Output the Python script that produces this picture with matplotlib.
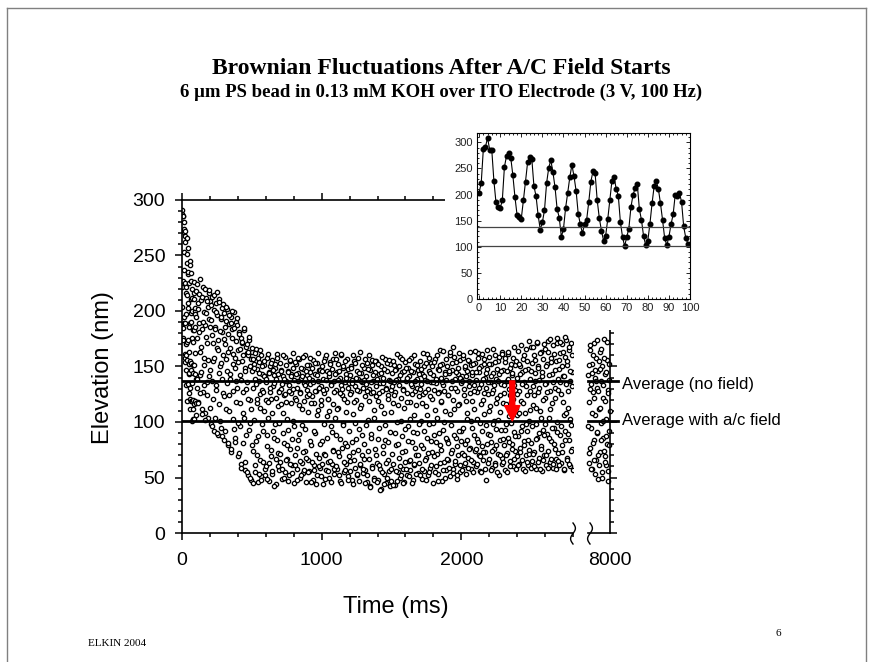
import numpy as np
import matplotlib.pyplot as plt
from matplotlib.ticker import MultipleLocator, FixedLocator
from matplotlib.lines import Line2D
from matplotlib.patches import Rectangle

plt.rcParams['font.family'] = ['Liberation Sans', 'DejaVu Sans']

# --- datos ---------------------------------------------------------------
# primeros 100 ms (1 muestra por ms), los mismos del recuadro
inset_nm = [204, 222, 287, 291, 309, 286, 286, 227, 185, 176,
            174, 189, 253, 274, 280, 271, 237, 195, 161, 158,
            154, 189, 225, 262, 272, 268, 216, 197, 160, 133,
            147, 170, 222, 251, 266, 243, 214, 172, 156, 119,
            134, 174, 203, 233, 257, 235, 207, 163, 143, 126,
            144, 152, 186, 225, 245, 241, 189, 155, 131, 112,
            121, 153, 190, 227, 234, 211, 198, 147, 119, 101,
            119, 135, 176, 200, 212, 220, 172, 151, 120, 103,
            112, 144, 183, 216, 226, 211, 183, 151, 116, 103,
            119, 143, 162, 200, 197, 203, 186, 139, 117, 106]

# de 100 ms a 2800 ms, una muestra cada 4 ms (una fila = 100 ms)
step_ms = 4
trace_nm = [
    218, 131, 176, 207, 118, 189, 215, 142, 163, 210, 112, 184, 222, 127, 158, 199, 108, 187, 212, 136, 171, 204, 104, 193, 216,
    147, 209, 98, 178, 213, 121, 155, 201, 92, 186, 207, 133, 167, 196, 88, 174, 211, 116, 150, 193, 95, 181, 203, 126, 160,
    198, 84, 170, 191, 112, 146, 202, 79, 163, 188, 124, 139, 195, 73, 176, 184, 103, 152, 199, 86, 158, 190, 118, 131, 187,
    69, 165, 181, 96, 142, 176, 62, 155, 171, 108, 127, 183, 57, 149, 168, 88, 136, 162, 52, 160, 174, 99, 120, 157, 48,
    146, 163, 74, 131, 152, 55, 139, 166, 83, 117, 148, 46, 154, 137, 66, 125, 160, 51, 143, 129, 92, 110, 151, 58, 141,
    60, 136, 158, 78, 104, 145, 47, 150, 127, 69, 121, 156, 53, 132, 142, 86, 98, 149, 44, 139, 161, 72, 114, 128, 57,
    153, 64, 130, 147, 49, 108, 141, 81, 124, 159, 55, 137, 118, 67, 146, 93, 133, 52, 155, 76, 126, 143, 61, 101, 149,
    45, 138, 122, 70, 152, 58, 131, 144, 84, 115, 157, 50, 127, 140, 63, 97, 148, 54, 135, 119, 74, 160, 46, 142, 129,
    66, 109, 151, 56, 134, 145, 79, 123, 138, 48, 156, 117, 61, 143, 90, 128, 153, 52, 111, 137, 68, 147, 59, 132, 120,
    83, 150, 44, 139, 126, 71, 158, 57, 130, 105, 146, 64, 121, 141, 50, 154, 96, 134, 62, 148, 75, 116, 137, 53, 162,
    88, 129, 145, 58, 152, 113, 69, 140, 47, 133, 160, 77, 124, 99, 149, 55, 136, 81, 143, 62, 118, 157, 51, 131, 92,
    142, 65, 127, 150, 48, 138, 107, 73, 155, 59, 132, 120, 85, 146, 52, 139, 94, 128, 163, 61, 115, 144, 70, 136, 54,
    149, 80, 123, 57, 141, 134, 46, 153, 102, 67, 130, 147, 42, 126, 89, 156, 60, 137, 111, 50, 145, 76, 132, 155, 63,
    119, 48, 143, 95, 135, 58, 150, 40, 128, 72, 140, 108, 53, 157, 84, 131, 45, 146, 66, 124, 138, 56, 152, 91, 129,
    47, 144, 117, 62, 136, 151, 43, 127, 79, 148, 100, 55, 139, 133, 68, 159, 50, 122, 87, 145, 58, 130, 113, 46, 154,
    74, 137, 126, 52, 149, 96, 65, 141, 118, 57, 158, 82, 132, 48, 145, 106, 61, 128, 152, 70, 139, 90, 54, 147, 123,
    63, 155, 101, 134, 49, 143, 77, 125, 150, 56, 138, 114, 68, 161, 86, 130, 52, 146, 98, 59, 136, 153, 73, 121, 45,
    142, 88, 129, 157, 60, 135, 104, 71, 148, 53, 127, 165, 79, 118, 140, 47, 152, 93, 133, 64, 145, 110, 57, 138, 84,
    150, 66, 124, 144, 51, 160, 97, 131, 75, 147, 58, 168, 112, 62, 139, 86, 154, 49, 128, 143, 70, 116, 156, 55, 135,
    92, 141, 72, 158, 61, 130, 149, 80, 119, 53, 146, 103, 68, 137, 155, 77, 126, 58, 151, 95, 142, 64, 133, 112, 74,
    153, 60, 138, 85, 127, 162, 70, 145, 99, 56, 134, 150, 78, 120, 66, 157, 107, 140, 73, 131, 48, 148, 89, 125, 159,
    67, 136, 114, 82, 152, 59, 129, 144, 76, 101, 160, 63, 139, 94, 122, 71, 155, 52, 143, 109, 84, 134, 163, 68, 117,
    147, 79, 126, 57, 154, 98, 137, 72, 161, 86, 130, 105, 65, 149, 118, 80, 142, 60, 158, 91, 133, 74, 151, 113, 69,
    140, 87, 164, 62, 128, 150, 77, 119, 96, 145, 58, 157, 83, 136, 108, 70, 166, 92, 124, 61, 148, 101, 75, 139, 168,
    81, 153, 65, 132, 115, 160, 73, 144, 98, 58, 171, 86, 127, 150, 68, 138, 110, 78, 163, 56, 141, 93, 157, 70, 122,
    166, 61, 135, 89, 152, 74, 173, 104, 128, 64, 158, 83, 143, 117, 59, 169, 95, 131, 76, 155, 67, 176, 100, 139, 72,
    148, 88, 162, 63, 125, 170, 79, 141, 106, 57, 159, 92, 134, 174, 68, 151, 113, 84, 165, 60, 137, 97, 171, 76, 145,
]

# muestras intermedias (102 ms, 106 ms, ...), tambien cada 4 ms
trace_nm_b = [
    195, 224, 139, 117, 202, 181, 126, 229, 168, 145, 107, 213, 190, 133, 151, 220, 102, 177, 198, 124, 209, 156, 141, 219, 186,
    113, 192, 205, 137, 96, 171, 214, 158, 104, 184, 129, 199, 217, 90, 165, 144, 208, 182, 101, 153, 195, 139, 87, 206, 175,
    123, 186, 92, 204, 157, 135, 81, 179, 196, 110, 167, 143, 189, 76, 200, 128, 161, 94, 185, 149, 82, 173, 137, 194, 99,
    154, 72, 179, 117, 166, 59, 138, 172, 81, 160, 104, 185, 64, 146, 130, 170, 55, 121, 163, 93, 177, 50, 150, 112, 167,
    79, 157, 45, 149, 102, 162, 61, 134, 121, 70, 158, 87, 144, 53, 165, 113, 48, 150, 98, 127, 64, 155, 141, 52, 120,
    139, 88, 49, 161, 118, 63, 144, 131, 75, 153, 56, 108, 147, 92, 42, 135, 152, 67, 122, 84, 158, 60, 143, 99, 127,
    71, 146, 116, 58, 134, 160, 90, 50, 139, 125, 66, 151, 103, 79, 145, 47, 128, 156, 62, 117, 141, 85, 54, 162, 130,
    96, 154, 61, 120, 143, 77, 48, 137, 158, 89, 65, 126, 149, 52, 112, 141, 73, 159, 57, 133, 94, 146, 68, 123, 151,
    55, 140, 125, 83, 158, 46, 117, 149, 64, 136, 92, 57, 153, 128, 71, 44, 142, 106, 162, 60, 131, 80, 147, 115, 51,
    146, 62, 129, 98, 155, 70, 49, 138, 160, 86, 121, 56, 144, 110, 65, 152, 133, 46, 91, 157, 74, 127, 58, 143, 104,
    60, 157, 112, 73, 138, 52, 146, 126, 85, 161, 45, 130, 97, 150, 64, 121, 155, 57, 109, 140, 78, 48, 148, 135, 69,
    125, 56, 149, 82, 135, 160, 44, 118, 66, 153, 99, 140, 53, 129, 75, 158, 47, 144, 113, 62, 137, 88, 151, 58, 131,
    67, 138, 45, 157, 97, 128, 52, 148, 74, 119, 160, 41, 136, 86, 151, 59, 127, 142, 48, 104, 155, 70, 123, 46, 139,
    85, 152, 61, 126, 39, 144, 114, 55, 159, 78, 135, 44, 148, 97, 63, 130, 153, 50, 121, 82, 156, 42, 137, 109, 58,
    132, 71, 155, 43, 124, 90, 147, 56, 138, 161, 47, 115, 80, 150, 60, 142, 101, 52, 157, 73, 129, 45, 146, 94, 64,
    149, 58, 118, 140, 83, 51, 156, 103, 66, 134, 146, 45, 125, 91, 160, 62, 137, 77, 115, 53, 151, 131, 70, 98, 143,
    52, 130, 148, 79, 117, 58, 162, 92, 141, 66, 127, 153, 48, 106, 137, 72, 158, 55, 123, 144, 83, 61, 150, 99, 136,
    69, 154, 111, 55, 139, 82, 160, 47, 126, 147, 90, 63, 151, 119, 75, 136, 57, 164, 100, 128, 50, 143, 86, 157, 67,
    124, 81, 146, 59, 163, 107, 72, 137, 153, 54, 120, 88, 159, 65, 131, 145, 78, 52, 149, 115, 92, 162, 61, 140, 83,
    137, 57, 160, 95, 124, 70, 150, 63, 141, 108, 84, 156, 59, 132, 76, 163, 101, 66, 145, 119, 55, 152, 88, 128, 164,
    76, 145, 103, 62, 158, 82, 131, 149, 69, 116, 55, 161, 92, 139, 73, 126, 152, 58, 144, 97, 80, 165, 63, 136, 110,
    152, 88, 57, 141, 126, 74, 166, 98, 133, 61, 154, 117, 79, 148, 55, 137, 102, 159, 70, 124, 93, 146, 62, 161, 85,
    64, 133, 158, 93, 116, 70, 146, 55, 139, 163, 82, 124, 60, 152, 99, 76, 144, 121, 67, 168, 87, 129, 58, 155, 106,
    125, 61, 152, 108, 73, 143, 92, 169, 66, 134, 117, 79, 160, 56, 147, 98, 132, 64, 155, 84, 173, 71, 128, 111, 59,
    146, 96, 71, 168, 124, 60, 137, 156, 85, 113, 172, 64, 149, 90, 131, 58, 162, 104, 76, 145, 120, 66, 170, 88, 134,
    98, 150, 70, 127, 163, 59, 142, 86, 175, 112, 67, 154, 95, 136, 62, 161, 80, 122, 147, 58, 171, 91, 129, 65, 156,
    61, 136, 172, 96, 150, 73, 118, 163, 58, 141, 84, 177, 108, 66, 155, 128, 89, 168, 62, 146, 103, 74, 160, 132, 57,
]

# tramo final, 7840-8000 ms
tail_start_ms = 7840
tail_nm = [142, 63, 118, 165, 77, 134, 95, 152, 58, 127, 171, 84, 140, 106, 66, 158, 90, 131, 49, 146,
           112, 73, 163, 99, 137, 55, 150, 86, 122, 175, 69, 143, 103, 61, 156, 80, 129, 47, 138, 92]
tail_nm_b = [96, 151, 72, 130, 169, 58, 144, 108, 81, 160, 66, 122, 147, 53, 137, 91, 174, 70, 128, 155,
             61, 113, 148, 84, 166, 50, 133, 101, 74, 158, 119, 64, 145, 87, 172, 56, 126, 152, 79, 110]

avg_no_field = 137
avg_ac_field = 101
arrow_ms = 2365

inset_t = np.arange(len(inset_nm))
trace_t = 100 + step_ms * np.arange(len(trace_nm))
trace_t_b = 102 + step_ms * np.arange(len(trace_nm_b))
main_t = np.concatenate([inset_t, trace_t, trace_t_b])
main_nm = np.concatenate([inset_nm, trace_nm, trace_nm_b])
tail_t = np.concatenate([tail_start_ms + step_ms * np.arange(len(tail_nm)),
                         tail_start_ms + 2 + step_ms * np.arange(len(tail_nm_b))])
tail_all = np.concatenate([tail_nm, tail_nm_b])

W, H = 873, 662


def fx(px):
    return px / W


def fy(py):
    return 1 - py / H


fig = plt.figure(figsize=(8.73, 6.62), dpi=100)

punto = dict(marker='o', ms=3.1, mfc='white', mec='black', mew=0.95, ls='none')

# --- eje principal ---
ax = fig.add_axes([fx(182), fy(533), fx(573) - fx(182), fy(200) - fy(533)])
ax.plot(main_t, main_nm, **punto)
ax.axhline(avg_no_field, color='black', lw=2)
ax.axhline(avg_ac_field, color='black', lw=2)
ax.annotate('', xy=(arrow_ms, avg_ac_field), xytext=(arrow_ms, avg_no_field),
            arrowprops=dict(arrowstyle='simple,head_length=0.55,head_width=0.55,tail_width=0.18',
                            color='red', shrinkA=0, shrinkB=0, mutation_scale=20), zorder=5)
ax.set_xlim(0, 2800)
ax.set_ylim(0, 300)
ax.spines['right'].set_visible(False)
for s in ['left', 'bottom', 'top']:
    ax.spines[s].set_linewidth(1.2)
ax.xaxis.set_major_locator(MultipleLocator(1000))
ax.xaxis.set_minor_locator(MultipleLocator(200))
ax.yaxis.set_major_locator(MultipleLocator(50))
ax.yaxis.set_minor_locator(MultipleLocator(10))
ax.tick_params(which='both', direction='out', top=True, labelsize=14, width=1.1)
ax.tick_params(which='major', length=5, pad=9)
ax.tick_params(which='minor', length=3)
ax.tick_params(axis='y', pad=7)

# --- tramo 8000 ms ---
ax2 = fig.add_axes([fx(588), fy(533), fx(610) - fx(588), fy(200) - fy(533)])
ax2.plot(tail_t, tail_all, clip_on=False, **punto)
ax2.axhline(avg_no_field, xmax=1.36, color='black', lw=2, clip_on=False)
ax2.axhline(avg_ac_field, xmax=1.36, color='black', lw=2, clip_on=False)
ax2.set_xlim(tail_start_ms, 8000)
ax2.set_ylim(0, 300)
ax2.spines['left'].set_visible(False)
ax2.spines['top'].set_visible(False)
ax2.spines['right'].set_linewidth(1.2)
ax2.spines['bottom'].set_linewidth(1.2)
ax2.xaxis.set_major_locator(FixedLocator([8000]))
ax2.yaxis.set_major_locator(MultipleLocator(50))
ax2.yaxis.set_minor_locator(MultipleLocator(10))
ax2.yaxis.tick_right()
ax2.tick_params(axis='y', which='both', labelright=False, direction='out', width=1.1)
ax2.tick_params(axis='y', which='major', length=5)
ax2.tick_params(axis='y', which='minor', length=3)
ax2.tick_params(axis='x', direction='out', length=0, labelsize=14, pad=14)

# marcas de corte del eje
s = np.linspace(0, 1, 24)
for x0 in [573, 590]:
    xs = x0 - 2.4 * np.sin(2 * np.pi * s)
    ys = 544 - 21 * s
    fig.add_artist(Line2D(fx(xs), fy(ys), color='black', lw=1, transform=fig.transFigure))

fig.text(fx(622), fy(384), 'Average (no field)', va='center', ha='left', fontsize=12)
fig.text(fx(622), fy(420), 'Average with a/c field', va='center', ha='left', fontsize=12)

fig.text(fx(396), fy(607), 'Time (ms)', ha='center', va='center', fontsize=17)
fig.text(fx(103), fy(368), 'Elevation (nm)', ha='center', va='center', fontsize=17, rotation=90)

# --- recuadro ---
fig.add_artist(Rectangle((fx(445), fy(330)), fx(705) - fx(445), fy(128) - fy(330),
                         transform=fig.transFigure, facecolor='white', edgecolor='none', zorder=2))
ins = fig.add_axes([fx(477), fy(299), fx(690) - fx(477), fy(133) - fy(299)], zorder=3)
ins.plot(inset_t, inset_nm, '-o', color='black', lw=0.8, ms=3.3)
ins.axhline(avg_no_field, color='#444444', lw=0.9)
ins.axhline(avg_ac_field, color='#444444', lw=0.9)
ins.set_xlim(-1, 100)
ins.set_ylim(0, 318)
ins.xaxis.set_major_locator(MultipleLocator(10))
ins.xaxis.set_minor_locator(MultipleLocator(2))
ins.yaxis.set_major_locator(MultipleLocator(50))
ins.yaxis.set_minor_locator(MultipleLocator(10))
ins.tick_params(which='both', direction='in', top=True, right=True, labelsize=8, width=0.6,
                labelcolor='#222222', pad=3)
ins.tick_params(which='major', length=3)
ins.tick_params(which='minor', length=1.6)
for sp in ins.spines.values():
    sp.set_linewidth(0.8)

# --- titulos y marco de la diapositiva ---
fig.text(0.505, fy(68), 'Brownian Fluctuations After A/C Field Starts', ha='center', va='center',
         family='Liberation Serif', weight='bold', fontsize=17)
fig.text(0.505, fy(92), '6 \u03bcm PS bead in 0.13 mM KOH over ITO Electrode (3 V, 100 Hz)',
         ha='center', va='center', family='Liberation Serif', weight='bold', fontsize=13.5)
fig.text(fx(88), fy(643), 'ELKIN 2004', family='Liberation Serif', fontsize=8, va='center')
fig.text(fx(775), fy(633), '6', family='Liberation Serif', fontsize=8, va='center')

frame = dict(color='#808080', lw=1, transform=fig.transFigure)
fig.add_artist(Line2D([fx(7), fx(866)], [fy(8), fy(8)], **frame))
fig.add_artist(Line2D([fx(866), fx(866)], [fy(8), 0], **frame))
fig.add_artist(Line2D([fx(7), fx(7)], [fy(8), 0], **frame))

fig.savefig('out.png', dpi=100)
